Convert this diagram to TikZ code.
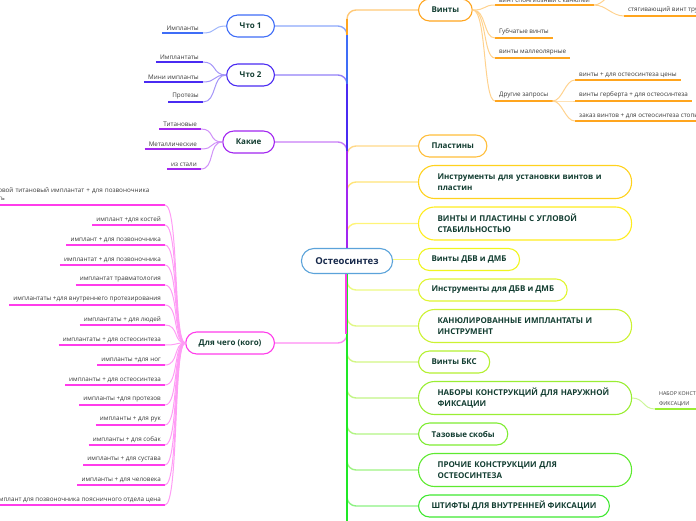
\documentclass[tikz,border=0pt]{standalone}
\usepackage{fontspec}
\setmainfont{Open Sans}
\usetikzlibrary{positioning,calc}

\definecolor{cRoot}{HTML}{5BA3DA}
\definecolor{cRootTxt}{HTML}{16284A}
\definecolor{cTxt}{HTML}{123D31}
\definecolor{cVin}{HTML}{FFA51E}
\definecolor{cCh1}{HTML}{3F6DF7}
\definecolor{cCh2}{HTML}{4A2BF2}
\definecolor{cKak}{HTML}{A226F0}
\definecolor{cDly}{HTML}{FF3CEB}
\definecolor{cPla}{HTML}{FFBE3A}
\definecolor{cIns}{HTML}{FFD21E}
\definecolor{cUgl}{HTML}{FFEC1E}
\definecolor{cDbv}{HTML}{F0F51E}
\definecolor{cIdb}{HTML}{E0F530}
\definecolor{cKan}{HTML}{CCF233}
\definecolor{cBks}{HTML}{B4F032}
\definecolor{cNab}{HTML}{9AEE33}
\definecolor{cTaz}{HTML}{7EEC32}
\definecolor{cPro}{HTML}{5EEA30}
\definecolor{cSht}{HTML}{3FE830}
\definecolor{cTrk}{HTML}{1EE826}

\begin{document}
\begin{tikzpicture}[
  x=1pt, y=-1pt,
  topic/.style={
    rectangle,
    draw=#1,
    line width=1.1pt,
    fill=white,
    rounded corners=11pt,
    minimum height=22pt,
    inner xsep=13pt,
    inner ysep=0pt,
    text=cTxt,
    font=\fontsize{8}{11}\selectfont\bfseries
  },
  longtopic/.style={
    topic=#1,
    rounded corners=16pt,
    minimum height=33pt,
    text width=175pt,
    inner xsep=19pt,
    align=left
  },
  hub/.style={
    topic=cRoot,
    rounded corners=12.5pt,
    minimum height=25pt,
    inner xsep=14pt,
    text=cRootTxt,
    font=\fontsize{9.5}{12}\selectfont\bfseries
  },
  leaf/.style={
    inner xsep=4pt,
    inner ysep=2.5pt,
    text=black!78,
    font=\fontsize{6.3}{8.5}\selectfont,
    append after command={(\tikzlastnode.south west) edge[draw=#1, line width=1.8pt] (\tikzlastnode.south east)}
  },
  stem/.style={draw=#1!60, line width=1.4pt, rounded corners=9pt},
  trunk/.style={draw=#1, line width=2.6pt},
  twig/.style={draw=#1!50, line width=1pt}
]
\useasboundingbox (0,0) rectangle (696,520);

% centre and main topics
\node[hub] (root) at (347,261) {Остеосинтез};

\node[topic=cVin, anchor=west] (vinty) at (418,10) {Винты};
\node[topic=cPla, anchor=west] (plast) at (418,146) {Пластины};
\node[longtopic=cIns, below=7.4pt of plast.south west, anchor=north west] (instr) {Инструменты для установки винтов и\\пластин};
\node[longtopic=cUgl, below=7.4pt of instr.south west, anchor=north west] (uglov) {ВИНТЫ И ПЛАСТИНЫ С УГЛОВОЙ\\СТАБИЛЬНОСТЬЮ};
\node[topic=cDbv, below=7.4pt of uglov.south west, anchor=north west] (dbv) {Винты ДБВ и ДМБ};
\node[topic=cIdb, below=7.4pt of dbv.south west, anchor=north west] (instrdbv) {Инструменты для ДБВ и ДМБ};
\node[longtopic=cKan, below=7.4pt of instrdbv.south west, anchor=north west] (kanyul) {КАНЮЛИРОВАННЫЕ ИМПЛАНТАТЫ И\\ИНСТРУМЕНТ};
\node[topic=cBks, below=7.4pt of kanyul.south west, anchor=north west] (bks) {Винты БКС};
\node[longtopic=cNab, below=7.4pt of bks.south west, anchor=north west] (nabory) {НАБОРЫ КОНСТРУКЦИЙ ДЛЯ НАРУЖНОЙ\\ФИКСАЦИИ};
\node[topic=cTaz, below=7.4pt of nabory.south west, anchor=north west] (tazov) {Тазовые скобы};
\node[longtopic=cPro, below=7.4pt of tazov.south west, anchor=north west] (prochie) {ПРОЧИЕ КОНСТРУКЦИИ ДЛЯ\\ОСТЕОСИНТЕЗА};
\node[topic=cSht, below=7.4pt of prochie.south west, anchor=north west] (shtift) {ШТИФТЫ ДЛЯ ВНУТРЕННЕЙ ФИКСАЦИИ};

\node[topic=cCh1, anchor=east] (chto1) at (275,26) {Что 1};
\node[topic=cCh2, anchor=east] (chto2) at (275,75) {Что 2};
\node[topic=cKak, anchor=east] (kakie) at (275,142) {Какие};
\node[topic=cDly, anchor=east] (dlya) at (275,343) {Для чего (кого)};

\coordinate (trunkend) at (347,530);

% branches from the centre
\foreach \n/\c in {plast/cPla, instr/cIns, uglov/cUgl}
  \draw[stem=\c] (root.north) |- (\n.west);
\draw[stem=cDbv] (root.east |- dbv.west) -- (dbv.west);
\foreach \n/\c in {instrdbv/cIdb, kanyul/cKan, bks/cBks, nabory/cNab, tazov/cTaz, prochie/cPro, shtift/cSht}
  \draw[stem=\c] (root.south) |- (\n.west);
\draw[stem=cVin] (root.north) |- (vinty.west);
\foreach \n/\c in {chto1/cCh1, chto2/cCh2, kakie/cKak}
  \draw[stem=\c] (root.north) |- (\n.east);
\draw[stem=cDly] (root.south) |- (dlya.east);

% coloured trunk
\draw[trunk=cTrk] (root.south) -- (trunkend);
\draw[trunk=cVin] (root.north) -- ($(root.north |- vinty.west)+(0,9)$);
\draw[trunk=cCh1] (root.north) -- ($(root.north |- chto1.east)+(0,9)$);
\draw[trunk=cCh2] (root.north) -- ($(root.north |- chto2.east)+(0,9)$);
\draw[trunk=cKak] (root.north) -- ($(root.north |- kakie.east)+(0,9)$);
\draw[trunk=cDly] ([xshift=-1pt]root.south) -- ($(root.south |- dlya.east)+(-1,-9)$);

% Винты
\node[leaf=cVin, anchor=south west] (v1) at (495,5) {винт спонгиозный с канюлей};
\node[leaf=cVin, anchor=south west] (v2) at (495,38) {Губчатые винты};
\node[leaf=cVin, anchor=south west] (v3) at (495,58) {винты маллеолярные};
\node[leaf=cVin, anchor=south west] (v4) at (495,101) {Другие запросы};
\node[leaf=cVin, anchor=south west] (v11) at (624,16) {стягивающий винт трубчатый};
\node[leaf=cVin, anchor=south west] (v41) at (575,80) {винты + для остеосинтеза цены};
\node[leaf=cVin, anchor=south west] (v42) at (575,101) {винты герберта + для остеосинтеза};
\node[leaf=cVin, anchor=south west] (v43) at (575,121) {заказ винтов + для остеосинтеза стопы};
\coordinate (vup) at (614,-12);

\foreach \n in {v1,v2,v3,v4}
  \draw[twig=cVin] (vinty.east) .. controls +(14,0) and +(-12,0) .. (\n.south west);
\foreach \n in {v41,v42,v43}
  \draw[twig=cVin] (v4.south east) .. controls +(10,0) and +(-10,0) .. (\n.south west);
\draw[twig=cVin] (v1.south east) .. controls +(12,0) and +(-12,0) .. (v11.south west);
\draw[twig=cVin] (v1.south east) .. controls +(8,0) and +(-4,6) .. (vup);

% НАБОРЫ
\node[leaf=cNab, anchor=south west, align=left, font=\fontsize{5.3}{9.5}\selectfont] (nb1) at (655,409) {НАБОР КОНСТРУКЦИЙ ДЛЯ НАРУЖНОЙ\\ФИКСАЦИИ};
\draw[twig=cNab] (nabory.east) .. controls +(12,0) and +(-12,0) .. (nb1.south west);

% Что 1, Что 2, Какие
\node[leaf=cCh1, anchor=south east] (imp) at (203,33) {Импланты};
\draw[twig=cCh1] (chto1.west) .. controls +(-14,0) and +(14,0) .. (imp.south east);

\node[leaf=cCh2, anchor=south east] (c21) at (203,62) {Имплантаты};
\node[leaf=cCh2, anchor=south east] (c22) at (203,82) {Мини импланты};
\node[leaf=cCh2, anchor=south east] (c23) at (203,102) {Протезы};
\foreach \n in {c21,c22,c23}
  \draw[twig=cCh2] (chto2.west) .. controls +(-14,0) and +(14,0) .. (\n.south east);

\node[leaf=cKak, anchor=south east] (k1) at (201,129) {Титановые};
\node[leaf=cKak, anchor=south east] (k2) at (201,149) {Металлические};
\node[leaf=cKak, anchor=south east] (k3) at (201,169) {из стали};
\foreach \n in {k1,k2,k3}
  \draw[twig=cKak] (kakie.west) .. controls +(-14,0) and +(14,0) .. (\n.south east);

% Для чего (кого)
\node[leaf=cDly, anchor=south east, text width=177pt, align=left] (d1) at (165,205) {винтовой титановый имплантат + для позвоночника\\купить};
\foreach \i/\t in {
  2/имплант +для костей,
  3/имплант + для позвоночника,
  4/имплантат + для позвоночника,
  5/имплантат травматология,
  6/имплантаты +для внутреннего протезирования,
  7/имплантаты + для людей,
  8/имплантаты + для остеосинтеза,
  9/импланты +для ног,
  10/импланты + для остеосинтеза,
  11/импланты +для протезов,
  12/импланты + для рук,
  13/импланты + для собак,
  14/импланты + для сустава,
  15/импланты + для человека,
  16/имплант для позвоночника поясничного отдела цена}
  \node[leaf=cDly, anchor=south east] (d\i) at (165,185+20*\i) {\t};
\foreach \i in {1,...,16}
  \draw[twig=cDly] (dlya.west) .. controls +(-12,0) and +(14,0) .. (d\i.south east);

\end{tikzpicture}
\end{document}
